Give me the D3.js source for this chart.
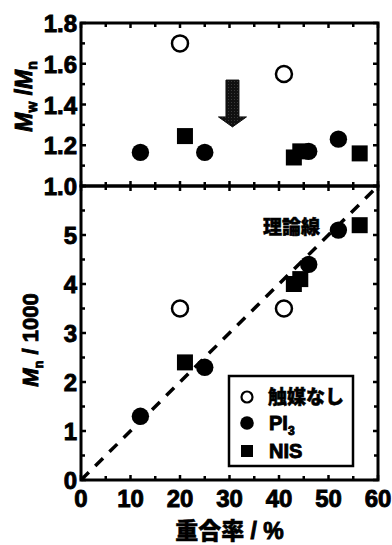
<!DOCTYPE html>
<html>
<head>
<meta charset="utf-8">
<script src="https://cdn.jsdelivr.net/npm/d3@7"></script>
<style>
  body { margin: 0; background: #fff; }
  text, tspan { font-family: "Liberation Sans", Arial, sans-serif; font-weight: 700; fill: #000; stroke: #000; stroke-width: 0.9px; }
  .cjk { font-family: "Noto Sans CJK JP", sans-serif; font-weight: 900; stroke-width: 0.5px; }
</style>
</head>
<body>
<svg id="chart" width="392" height="545"></svg>
<script>
// conversion (%) and values
const noCatConv = [20, 41];
const noCatPdi = [1.70, 1.55];
const noCatMn = [3.5, 3.5];

const pi3Conv = [12, 25, 46, 52];
const pi3Pdi = [1.165, 1.165, 1.17, 1.23];
const pi3Mn = [1.3, 2.3, 4.4, 5.1];

const nisConv = [21, 43, 44.3, 56.3];
const nisPdi = [1.245, 1.14, 1.17, 1.16];
const nisMn = [2.4, 4.0, 4.1, 5.2];

const theoryConv = [0, 60];
const theoryMn = [0, 6];

const xTicks = [0, 10, 20, 30, 40, 50, 60];
const pdiTicks = [1.0, 1.2, 1.4, 1.6, 1.8];
const mnTicks = [0, 1, 2, 3, 4, 5];

const svg = d3.select("#chart");
const left = 81, right = 378;
const topY = 23, midY = 186, botY = 480;

const x = d3.scaleLinear().domain([0, 60]).range([left, right]);
const yTop = d3.scaleLinear().domain([1.0, 1.8]).range([midY, topY]);
const yBot = d3.scaleLinear().domain([0, 6]).range([botY, midY]);

// arrow fill pattern
const defs = svg.append("defs");
const pat = defs.append("pattern").attr("id", "hatch").attr("width", 3).attr("height", 3)
  .attr("patternUnits", "userSpaceOnUse");
pat.append("rect").attr("width", 3).attr("height", 3).attr("fill", "#111");
pat.append("rect").attr("width", 1).attr("height", 1).attr("fill", "#3a3a3a");

// ticks helper: inward ticks on all four sides of a panel
function ticksFor(y, yMinor, yMajor, y0, y1) {
  const g = svg.append("g").attr("stroke", "#000").attr("stroke-width", 2.5);
  d3.range(0, 60.01, 5).forEach(v => {
    const len = v % 10 === 0 ? 5 : 4;
    g.append("line").attr("x1", x(v)).attr("x2", x(v)).attr("y1", y0).attr("y2", y0 - len);
    g.append("line").attr("x1", x(v)).attr("x2", x(v)).attr("y1", y1).attr("y2", y1 + len);
  });
  const [lo, hi] = y.domain();
  d3.range(lo, hi + 1e-6, yMinor).forEach(v => {
    const major = Math.abs(v / yMajor - Math.round(v / yMajor)) < 1e-6;
    const len = major ? 5 : 4;
    g.append("line").attr("x1", left).attr("x2", left + len).attr("y1", y(v)).attr("y2", y(v));
    g.append("line").attr("x1", right).attr("x2", right - len).attr("y1", y(v)).attr("y2", y(v));
  });
}
ticksFor(yTop, 0.1, 0.2, midY, topY);
ticksFor(yBot, 0.5, 1, botY, midY);

// frames
svg.append("rect").attr("x", left).attr("y", topY).attr("width", right - left).attr("height", midY - topY)
  .attr("fill", "none").attr("stroke", "#000").attr("stroke-width", 3);
svg.append("rect").attr("x", left).attr("y", midY).attr("width", right - left).attr("height", botY - midY)
  .attr("fill", "none").attr("stroke", "#000").attr("stroke-width", 3);

// tick labels
svg.append("g").selectAll("text").data(pdiTicks).join("text")
  .attr("x", left - 4).attr("y", d => yTop(d) + 9).attr("text-anchor", "end")
  .attr("font-size", 24).text(d => d.toFixed(1));
svg.append("g").selectAll("text").data(mnTicks).join("text")
  .attr("x", left - 4).attr("y", d => yBot(d) + 9).attr("text-anchor", "end")
  .attr("font-size", 24).text(d => d);
svg.append("g").selectAll("text").data(xTicks).join("text")
  .attr("x", d => x(d)).attr("y", botY + 27).attr("text-anchor", "middle")
  .attr("font-size", 24).text(d => d);

// axis titles
const t1 = svg.append("text").attr("transform", `translate(32,${(topY + midY) / 2 - 8}) rotate(-90)`)
  .attr("text-anchor", "middle").attr("font-size", 23);
t1.append("tspan").attr("font-style", "italic").text("M");
t1.append("tspan").attr("font-size", 14).attr("dy", 5).text("w");
t1.append("tspan").attr("dy", -5).text(" /");
t1.append("tspan").attr("font-style", "italic").text("M");
t1.append("tspan").attr("font-size", 14).attr("dy", 5).text("n");

const t2 = svg.append("text").attr("transform", `translate(38,${(midY + botY) / 2 + 7}) rotate(-90)`)
  .attr("text-anchor", "middle").attr("font-size", 22);
t2.append("tspan").attr("font-style", "italic").text("M");
t2.append("tspan").attr("font-size", 13).attr("dy", 5).text("n");
t2.append("tspan").attr("dy", -5).text(" / 1000");

const xt = svg.append("text").attr("x", (left + right) / 2).attr("y", 539)
  .attr("text-anchor", "middle").attr("font-size", 23);
xt.append("tspan").attr("class", "cjk").text("重合率");
xt.append("tspan").text(" / %");

// theory line
svg.append("path")
  .datum(theoryConv.map((c, i) => [c, theoryMn[i]]))
  .attr("d", d3.line().x(d => x(d[0])).y(d => yBot(d[1])))
  .attr("stroke", "#000").attr("stroke-width", 3.5).attr("stroke-dasharray", "11,9").attr("fill", "none");

svg.append("text").attr("class", "cjk").attr("x", 320).attr("y", 234)
  .attr("text-anchor", "end").attr("font-size", 19).text("理論線");

// arrow in top panel
const ax = x(30.6), ay0 = yTop(1.52), ay1 = yTop(1.29);
svg.append("path")
  .attr("d", `M${ax - 6.5},${ay0} H${ax + 6.5} V${ay1 - 10} H${ax + 14} L${ax},${ay1} L${ax - 14},${ay1 - 10} H${ax - 6.5} Z`)
  .attr("fill", "url(#hatch)").attr("stroke", "#111").attr("stroke-width", 1);

// markers
function drawSeries(conv, vals, y, kind) {
  const g = svg.append("g");
  conv.forEach((c, i) => {
    if (kind === "open") {
      g.append("circle").attr("cx", x(c)).attr("cy", y(vals[i])).attr("r", 8)
        .attr("fill", "#fff").attr("stroke", "#000").attr("stroke-width", 2.5);
    } else if (kind === "circle") {
      g.append("circle").attr("cx", x(c)).attr("cy", y(vals[i])).attr("r", 8.7).attr("fill", "#000");
    } else {
      g.append("rect").attr("x", x(c) - 8).attr("y", y(vals[i]) - 8)
        .attr("width", 16).attr("height", 16).attr("fill", "#000");
    }
  });
}
drawSeries(noCatConv, noCatPdi, yTop, "open");
drawSeries(pi3Conv, pi3Pdi, yTop, "circle");
drawSeries(nisConv, nisPdi, yTop, "square");
drawSeries(noCatConv, noCatMn, yBot, "open");
drawSeries(pi3Conv, pi3Mn, yBot, "circle");
drawSeries(nisConv, nisMn, yBot, "square");

// legend
const lg = svg.append("g");
lg.append("rect").attr("x", 229).attr("y", 376).attr("width", 124).attr("height", 90)
  .attr("fill", "#fff").attr("stroke", "#000").attr("stroke-width", 2.5);
lg.append("circle").attr("cx", 247).attr("cy", 397).attr("r", 5.5)
  .attr("fill", "#fff").attr("stroke", "#000").attr("stroke-width", 2.2);
lg.append("circle").attr("cx", 247).attr("cy", 423).attr("r", 6.8).attr("fill", "#000");
lg.append("rect").attr("x", 241).attr("y", 445).attr("width", 12).attr("height", 12).attr("fill", "#000");
lg.append("text").attr("class", "cjk").attr("x", 268).attr("y", 404).attr("font-size", 19).text("触媒なし");
const pi = lg.append("text").attr("x", 269).attr("y", 430).attr("font-size", 20);
pi.append("tspan").text("PI");
pi.append("tspan").attr("font-size", 12).attr("dy", 5).text("3");
lg.append("text").attr("x", 269).attr("y", 458).attr("font-size", 20).text("NIS");
</script>
</body>
</html>
